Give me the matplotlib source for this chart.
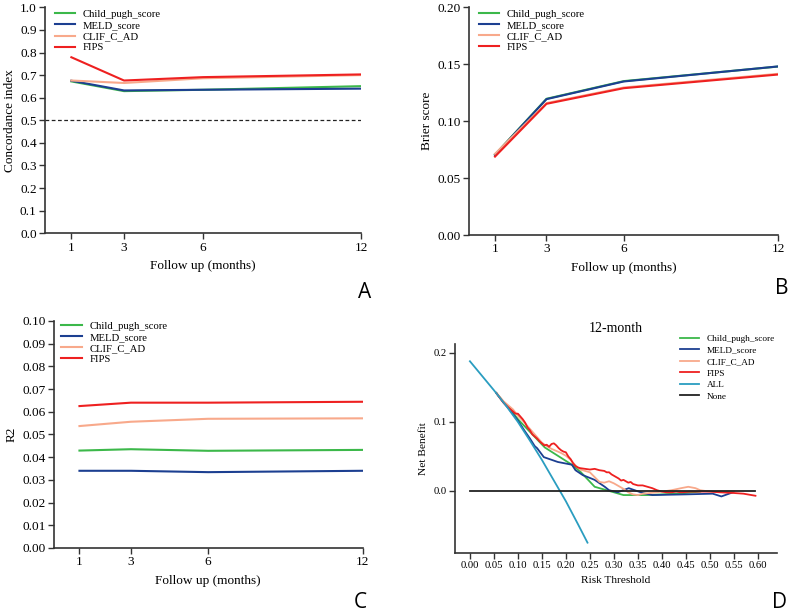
import matplotlib
matplotlib.use("Agg")
import matplotlib.pyplot as plt

# ---------------- data ----------------
months = [1, 3, 6, 12]
models = ["Child_pugh_score", "MELD_score", "CLIF_C_AD", "FIPS"]

cindex_child = [0.672, 0.629, 0.635, 0.651]
cindex_meld = [0.675, 0.632, 0.635, 0.640]
cindex_clif = [0.676, 0.665, 0.686, 0.700]
cindex_fips = [0.779, 0.676, 0.691, 0.703]

brier_child = [0.0705, 0.1195, 0.1350, 0.1478]
brier_meld = [0.0703, 0.1192, 0.1347, 0.1479]
brier_clif = [0.0712, 0.1157, 0.1294, 0.1414]
brier_fips = [0.0688, 0.1151, 0.1288, 0.1408]

r2_child = [0.0429, 0.0435, 0.0428, 0.0432]
r2_meld = [0.0340, 0.0340, 0.0334, 0.0340]
r2_clif = [0.0537, 0.0556, 0.0569, 0.0571]
r2_fips = [0.0625, 0.0640, 0.0640, 0.0644]

# decision curve (12-month)
dca_child_t = [0.055, 0.07, 0.08, 0.09, 0.10, 0.156, 0.2125, 0.23, 0.26, 0.29, 0.32, 0.37, 0.40, 0.45, 0.48]
dca_child_nb = [0.142, 0.129, 0.122, 0.113, 0.104, 0.063, 0.038, 0.028, 0.006, 0.000, -0.006, -0.006, -0.005, -0.003, -0.001]

dca_meld_t = [0.055, 0.07, 0.08, 0.09, 0.10, 0.115, 0.125, 0.135, 0.14, 0.154, 0.183, 0.2125, 0.22, 0.235,
              0.26, 0.281, 0.29, 0.308, 0.331, 0.36, 0.38, 0.45, 0.506, 0.524, 0.548]
dca_meld_nb = [0.142, 0.128, 0.120, 0.111, 0.102, 0.086, 0.076, 0.065, 0.062, 0.049, 0.042, 0.038, 0.030, 0.023,
               0.016, 0.006, 0.001, -0.002, 0.004, -0.003, -0.006, -0.005, -0.004, -0.008, -0.002]

dca_clif_t = [0.055, 0.07, 0.08, 0.09, 0.10, 0.11, 0.12, 0.13, 0.14, 0.15, 0.16, 0.17, 0.18, 0.19, 0.20, 0.21,
              0.22, 0.23, 0.24, 0.25, 0.26, 0.27, 0.28, 0.29, 0.30, 0.31, 0.32, 0.33, 0.34, 0.35, 0.36, 0.375,
              0.39, 0.40, 0.42, 0.44, 0.455, 0.47, 0.48, 0.50, 0.52, 0.55]
dca_clif_nb = [0.142, 0.130, 0.124, 0.118, 0.109, 0.102, 0.094, 0.086, 0.078, 0.070, 0.065, 0.061, 0.058, 0.055,
               0.051, 0.045, 0.037, 0.031, 0.029, 0.027, 0.020, 0.013, 0.012, 0.014, 0.011, 0.007, 0.003, -0.002,
               -0.005, -0.006, -0.004, -0.003, -0.002, -0.001, 0.001, 0.004, 0.006, 0.004, 0.001, -0.001, -0.001, -0.001]

dca_fips_t = [0.055, 0.06, 0.07, 0.08, 0.09, 0.095, 0.10, 0.105, 0.11, 0.115, 0.12, 0.125, 0.13, 0.135, 0.14,
              0.145, 0.15, 0.155, 0.16, 0.165, 0.17, 0.175, 0.18, 0.185, 0.19, 0.195, 0.20, 0.205, 0.21, 0.215,
              0.22, 0.225, 0.23, 0.24, 0.25, 0.26, 0.27, 0.28, 0.285, 0.29, 0.295, 0.30, 0.31, 0.315, 0.32, 0.33,
              0.335, 0.34, 0.35, 0.36, 0.37, 0.38, 0.39, 0.40, 0.41, 0.42, 0.43, 0.44, 0.46, 0.48, 0.50, 0.52,
              0.55, 0.57, 0.595]
dca_fips_nb = [0.142, 0.137, 0.128, 0.121, 0.115, 0.112, 0.112, 0.108, 0.104, 0.099, 0.092, 0.088, 0.082, 0.079,
               0.076, 0.072, 0.069, 0.066, 0.067, 0.064, 0.068, 0.069, 0.066, 0.062, 0.059, 0.057, 0.056, 0.050,
               0.046, 0.040, 0.036, 0.034, 0.033, 0.032, 0.031, 0.032, 0.030, 0.029, 0.027, 0.027, 0.024, 0.022,
               0.018, 0.015, 0.016, 0.012, 0.013, 0.010, 0.008, 0.008, 0.006, 0.004, 0.001, -0.001, -0.002,
               -0.002, -0.001, -0.002, -0.001, -0.001, -0.001, -0.002, -0.003, -0.004, -0.007]

dca_all_t = [0.00, 0.025, 0.05, 0.075, 0.10, 0.125, 0.15, 0.175, 0.20, 0.225, 0.245]
dca_all_nb = [0.188, 0.167, 0.146, 0.124, 0.100, 0.073, 0.045, 0.015, -0.015, -0.048, -0.075]

dca_none_t = [0.0, 0.595]
dca_none_nb = [0.0, 0.0]

x_ticks_months = [1, 3, 6, 12]
dca_xticks = [0.00, 0.05, 0.10, 0.15, 0.20, 0.25, 0.30, 0.35, 0.40, 0.45, 0.50, 0.55, 0.60]
dca_yticks = [0.0, 0.1, 0.2]

# ---------------- style ----------------
C_GREEN = "#3cb84a"
C_BLUE = "#1c3f91"
C_ORANGE = "#f8a98b"
C_RED = "#ee2020"
C_TEAL = "#2a9dc0"
C_BLACK = "#222222"
colors = [C_GREEN, C_BLUE, C_ORANGE, C_RED]

plt.rcParams["font.family"] = ["Liberation Serif", "DejaVu Serif"]
SPINE = "#333333"
LW = 1.5

fig = plt.figure(figsize=(7.9, 6.12), dpi=100)


def style_axes(ax, fs):
    for s in ["top", "right"]:
        ax.spines[s].set_visible(False)
    for s in ["left", "bottom"]:
        ax.spines[s].set_color(SPINE)
        ax.spines[s].set_linewidth(1.2)
    ax.tick_params(direction="out", length=4, width=1.0, color=SPINE, labelsize=fs, pad=2)


def line_panel(rect, series, ylim, yticks, yfmt, ylabel, leg_anchor):
    ax = fig.add_axes(rect)
    for vals, name, c in zip(series, models, colors):
        ax.plot(months, vals, color=c, lw=LW, label=name)
    ax.set_xlim(0, 12)
    ax.set_ylim(*ylim)
    ax.set_xticks(x_ticks_months)
    ax.set_yticks(yticks)
    ax.set_yticklabels([yfmt.format(v) for v in yticks])
    ax.set_xlabel("Follow up (months)", fontsize=9.5, labelpad=5)
    ax.set_ylabel(ylabel, fontsize=9.5, labelpad=3)
    style_axes(ax, 9.5)
    ax.legend(loc="upper left", bbox_to_anchor=leg_anchor, frameon=False, fontsize=7.7,
              handlelength=1.9, handletextpad=0.7, labelspacing=0.15, borderpad=0, borderaxespad=0)
    return ax


# Panel A
axA = line_panel([0.057, 0.619, 0.400, 0.369],
                 [cindex_child, cindex_meld, cindex_clif, cindex_fips],
                 (0, 1.0), [round(0.1 * i, 1) for i in range(11)], "{:.1f}",
                 "Concordance index", (0.03, 0.99))
axA.axhline(0.5, color="#222222", lw=0.9, ls=(0, (3, 2)), zorder=0)

# Panel B
axB = line_panel([0.594, 0.616, 0.391, 0.3725],
                 [brier_child, brier_meld, brier_clif, brier_fips],
                 (0, 0.20), [0.0, 0.05, 0.10, 0.15, 0.20], "{:.2f}",
                 "Brier score", (0.03, 0.99))

# Panel C
axC = line_panel([0.068, 0.1046, 0.391, 0.371],
                 [r2_child, r2_meld, r2_clif, r2_fips],
                 (0, 0.10), [round(0.01 * i, 2) for i in range(11)], "{:.2f}",
                 "R2", (0.025, 0.998))

# Panel D
axD = fig.add_axes([0.576, 0.0964, 0.4076, 0.3415])
axD.plot(dca_child_t, dca_child_nb, color=C_GREEN, lw=1.3, label="Child_pugh_score")
axD.plot(dca_meld_t, dca_meld_nb, color=C_BLUE, lw=1.3, label="MELD_score")
axD.plot(dca_clif_t, dca_clif_nb, color=C_ORANGE, lw=1.3, label="CLIF_C_AD")
axD.plot(dca_fips_t, dca_fips_nb, color=C_RED, lw=1.3, label="FIPS")
axD.plot(dca_all_t, dca_all_nb, color=C_TEAL, lw=1.3, label="ALL")
axD.plot(dca_none_t, dca_none_nb, color=C_BLACK, lw=1.3, label="None")
axD.set_xlim(-0.031, 0.64)
axD.set_ylim(-0.09, 0.213)
axD.set_xticks(dca_xticks)
axD.set_xticklabels(["{:.2f}".format(v) for v in dca_xticks])
axD.set_yticks(dca_yticks)
axD.set_yticklabels(["{:.1f}".format(v) for v in dca_yticks])
axD.set_xlabel("Risk Threshold", fontsize=8.2, labelpad=4)
axD.set_ylabel("Net Benefit", fontsize=8.2, labelpad=4)
axD.set_title("12-month", fontsize=10, pad=9)
style_axes(axD, 7.7)
axD.legend(loc="upper left", bbox_to_anchor=(0.70, 1.045), frameon=False, fontsize=6.7,
           handlelength=2.0, handletextpad=0.8, labelspacing=0.32, borderpad=0, borderaxespad=0)

# panel letters
for lab, x, y in [("A", 365, 292), ("B", 782, 288), ("C", 360, 603), ("D", 780, 603)]:
    fig.text(x / 790, 1 - y / 612, lab, fontsize=15, family="Open Sans", ha="center", va="center")

fig.savefig("out.png", dpi=100)
